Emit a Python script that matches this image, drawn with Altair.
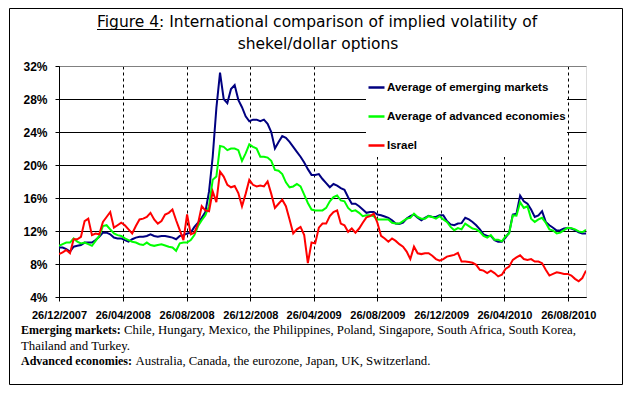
import altair as alt
import pandas as pd

# ---------------- data ----------------
start_date = "2007-12-26"
n_weeks = 145  # weekly observations 26/12/2007 .. 29/09/2010

emerging = [
    10.0, 10.0, 9.8, 9.5, 10.1, 10.2, 10.3, 10.6, 10.6, 10.6,
    10.9, 11.3, 11.8, 11.8, 11.6, 11.2, 11.1, 11.1, 10.9, 10.7,
    11.0, 11.2, 11.3, 11.3, 11.4, 11.6, 11.4, 11.3, 11.4, 11.4,
    11.3, 11.2, 11.0, 11.4, 11.5, 11.7,
    11.8, 12.5, 13.0, 13.6, 14.3, 16.8, 21.0, 26.9, 31.2, 28.0,
    27.5, 29.2, 29.7, 27.9, 27.0, 25.9, 25.3, 25.5, 25.5, 25.3,
    25.5, 25.0, 24.0, 22.0, 22.8, 23.5, 23.3, 22.8, 22.2, 21.6,
    21.0, 20.3, 19.5, 18.8, 18.8, 18.9,
    18.3, 17.8, 17.3, 17.7, 17.5, 17.2, 17.0, 16.1, 15.3, 15.3,
    15.0, 14.6, 14.2, 14.3, 14.3, 14.0, 13.9, 13.75, 13.6, 13.3,
    12.9, 12.85, 13.0, 13.5, 13.8, 14.0, 13.6, 13.3, 13.6, 13.85,
    13.7, 13.7, 13.9, 13.9, 13.2,
    12.8, 12.7, 12.9, 12.95, 13.6, 13.4, 13.1, 12.7, 12.2, 11.6,
    11.4, 11.4, 10.9, 10.7, 10.7, 11.2, 11.8, 14.0, 14.1, 16.3,
    15.6, 15.3, 14.6, 13.7, 13.9, 14.4, 13.1, 12.7, 12.4, 12.05,
    12.1, 12.3, 12.35, 12.3, 12.1, 11.85, 11.7, 11.7,
]

advanced = [
    10.2, 10.4, 10.6, 10.6, 11.1, 10.7, 10.5, 10.6, 10.4, 10.2,
    10.8, 11.4, 12.6, 12.7, 12.2, 11.7, 11.5, 11.4, 11.1, 10.9,
    10.7, 10.6, 10.4, 10.3, 10.6, 10.3, 10.2, 10.3, 10.4, 10.25,
    10.1, 10.0, 9.6, 10.5, 10.6, 10.6,
    10.9, 11.5, 12.6, 13.3, 13.9, 15.0, 18.2, 18.6, 22.3, 22.2,
    21.8, 22.0, 22.0, 21.8, 20.5, 21.4, 22.5, 22.2, 22.0, 21.0,
    21.0, 20.9, 20.5, 19.4, 19.3, 18.9, 17.9, 17.3, 17.4, 17.7,
    17.4, 16.4, 15.4, 14.6, 14.5, 14.5,
    14.5, 14.8, 15.6, 16.1, 16.3, 15.7, 15.6, 14.8, 14.4, 14.5,
    14.2, 13.8, 13.9, 13.9, 13.8, 13.4, 13.4, 13.4, 13.4, 13.0,
    12.9, 12.9, 13.2, 13.5, 13.6, 14.1, 13.7, 13.5, 13.5, 13.8,
    13.7, 13.5, 13.8, 13.4, 13.1,
    12.5, 12.1, 12.35, 12.2, 12.9, 12.6, 12.3, 12.2, 11.9, 11.4,
    11.2, 11.5, 10.95, 10.95, 10.75, 11.35, 11.7, 13.9, 13.85, 15.5,
    14.8, 15.0, 13.5, 13.1, 13.4, 13.6, 13.0, 12.2, 12.05, 11.7,
    11.8, 12.1, 12.4, 12.35, 12.2, 11.95, 11.85, 12.15,
]

israel = [
    9.2, 9.4, 9.7, 9.3, 11.0, 11.0, 11.3, 13.2, 13.5, 11.5,
    11.7, 11.6, 13.1, 13.7, 14.3, 12.4, 12.7, 13.0, 12.7, 12.2,
    11.7, 12.6, 13.4, 13.5, 13.7, 14.2, 13.4, 12.9, 13.2, 14.0,
    14.2, 14.6, 13.3, 12.1, 10.9, 14.0,
    11.6, 11.8, 12.9, 15.0, 14.5, 14.4, 16.8, 15.5, 19.2, 18.6,
    17.6, 17.3, 17.45, 16.6, 15.0, 16.5, 18.2, 17.6, 17.4, 17.5,
    17.4, 18.0, 16.5, 14.8, 15.3, 15.8, 15.0, 13.4, 11.7, 12.2,
    12.5, 11.5, 8.1, 10.6, 10.5, 12.4,
    12.9, 12.9, 13.8, 14.3, 14.5, 12.9, 12.7, 11.9, 12.3, 11.8,
    12.3, 13.0, 13.65, 13.8, 14.1, 13.0, 11.4, 11.1, 10.7, 11.1,
    10.8, 10.4, 10.1, 9.5, 8.6, 10.1, 9.3, 9.2, 9.3, 9.3,
    9.0, 8.6, 8.4, 8.6, 8.9,
    9.0, 9.1, 9.35, 8.3, 8.3, 8.25, 8.15, 7.9, 7.3, 7.2,
    6.9, 7.2, 6.9, 6.5, 6.7, 7.4, 7.7, 8.5, 8.8, 9.05,
    8.6, 8.5, 8.6, 8.3, 8.3, 8.1, 7.3, 6.6, 6.8, 7.0,
    6.9, 6.8, 6.8, 6.6, 6.2, 5.9, 6.3, 7.2,
]

series_names = ["Average of emerging markets", "Average of advanced economies", "Israel"]
series_colors = ["#000080", "#00FF00", "#FF0000"]
x_tick_dates = [(2007, 12, 26), (2008, 4, 26), (2008, 8, 26), (2008, 12, 26), (2009, 4, 26),
                (2009, 8, 26), (2009, 12, 26), (2010, 4, 26), (2010, 8, 26)]
x_domain = [(2007, 12, 26), (2010, 9, 29)]
y_ticks = [4, 8, 12, 16, 20, 24, 28, 32]

title_line1 = "Figure 4: International comparison of implied volatility of"
title_line2 = "shekel/dollar options"
note1_bold = "Emerging markets:"
note1_text = "Chile, Hungary, Mexico, the Philippines, Poland, Singapore, South Africa, South Korea,"
note2_text = "Thailand and Turkey."
note3_bold = "Advanced economies:"
note3_text = "Australia, Canada, the eurozone, Japan, UK, Switzerland."

# ---------------- table ----------------
dates = pd.date_range(start_date, periods=n_weeks, freq="7D").strftime("%Y-%m-%d").tolist()
rows = []
for k, (name, vals) in enumerate(zip(series_names, [emerging, advanced, israel])):
    for d, v in zip(dates, vals):
        rows.append({"date": d, "series": name, "value": v, "k": k})
df = pd.DataFrame(rows)


def dt(t):
    return alt.DateTime(year=t[0], month=t[1], date=t[2], utc=True)


W, H = 527, 231
SANS = "Liberation Sans"
SERIF = "Liberation Serif"

lines = alt.Chart(df).mark_line(strokeWidth=2, clip=True).encode(
    x=alt.X(
        "date:T",
        scale=alt.Scale(type="utc", domain=[dt(x_domain[0]), dt(x_domain[1])], nice=False),
        axis=alt.Axis(
            values=[dt(t) for t in x_tick_dates],
            labelExpr="utcFormat(datum.value, '%d/%m/%Y')",
            title=None,
            grid=True,
            gridColor="black",
            gridDash=[3, 3],
            gridWidth=1,
            ticks=True,
            tickSize=4,
            labelBaseline="top",
            labelPadding=8,
            labelFontSize=11,
            labelFontWeight="bold",
            labelFont=SANS,
            labelColor="black",
            domainColor="black",
            tickColor="black",
            labelOverlap=False,
            labelFlush=False,
        ),
    ),
    y=alt.Y(
        "value:Q",
        scale=alt.Scale(domain=[4, 32], nice=False, zero=False),
        axis=alt.Axis(
            values=y_ticks,
            labelExpr="datum.value + '%'",
            title=None,
            grid=True,
            gridColor={"condition": {"test": "datum.value === 32", "value": "#808080"}, "value": "black"},
            gridWidth=1,
            tickSize=4,
            labelPadding=8,
            labelFontSize=12,
            labelFontWeight="bold",
            labelFont=SANS,
            labelColor="black",
            domainColor="black",
            tickColor="black",
        ),
    ),
    color=alt.Color(
        "series:N",
        scale=alt.Scale(domain=series_names, range=series_colors),
        legend=alt.Legend(
            orient="none",
            legendX=308,
            legendY=12,
            title=None,
            symbolType="stroke",
            symbolSize=256,
            symbolStrokeWidth=2.5,
            labelFont=SANS,
            labelFontWeight="bold",
            labelFontSize=11.5,
            labelColor="black",
            labelOffset=1,
            rowPadding=14,
            padding=0,
            labelLimit=300,
        ),
    ),
    order=alt.Order("k:Q"),
)

one = alt.Data(values=[{}])

legend_bg = alt.Chart(one).mark_rect(fill="white", stroke=None).encode(
    x=alt.value(307), x2=alt.value(508), y=alt.value(1), y2=alt.value(91)
)


def txt(text, x, y, font=SANS, size=12, weight="normal", align="left"):
    return alt.Chart(one).mark_text(
        font=font, fontSize=size, fontWeight=weight, align=align,
        baseline="alphabetic", color="black"
    ).encode(x=alt.value(x), y=alt.value(y), text=alt.value(text))


t1 = txt(title_line1, 38, -39, font="DejaVu Sans", size=15.5)
t2 = txt(title_line2, 259, -17, font="DejaVu Sans", size=15.5, align="center")
underline = alt.Chart(one).mark_rule(color="black", strokeWidth=1).encode(
    x=alt.value(38), x2=alt.value(101.5), y=alt.value(-36.5)
)

n1b = txt(note1_bold, -38, 268, font=SERIF, size=12, weight="bold")
n1 = txt(note1_text, 65, 268, font=SERIF, size=12.8)
n2 = txt(note2_text, -38, 284, font=SERIF, size=12.8)
n3b = txt(note3_bold, -38, 299, font=SERIF, size=12, weight="bold")
n3 = txt(note3_text, 76.5, 299, font=SERIF, size=12.8)

frame = alt.Chart(one).mark_rect(fill="transparent", stroke="black", strokeWidth=1).encode(
    x=alt.value(-49.5), x2=alt.value(563.5), y=alt.value(-57.5), y2=alt.value(318.5)
)

chart = alt.layer(
    lines, legend_bg, t1, t2, underline, n1b, n1, n2, n3b, n3, frame
).properties(
    width=W,
    height=H,
    padding={"left": 51, "top": 58, "right": 39, "bottom": 89},
    autosize=alt.AutoSizeParams(type="none"),
).configure_view(
    stroke="#808080", strokeWidth=1
).configure(
    background="white"
)

chart.save("out.html", embed_options={"renderer": "svg", "actions": False})
